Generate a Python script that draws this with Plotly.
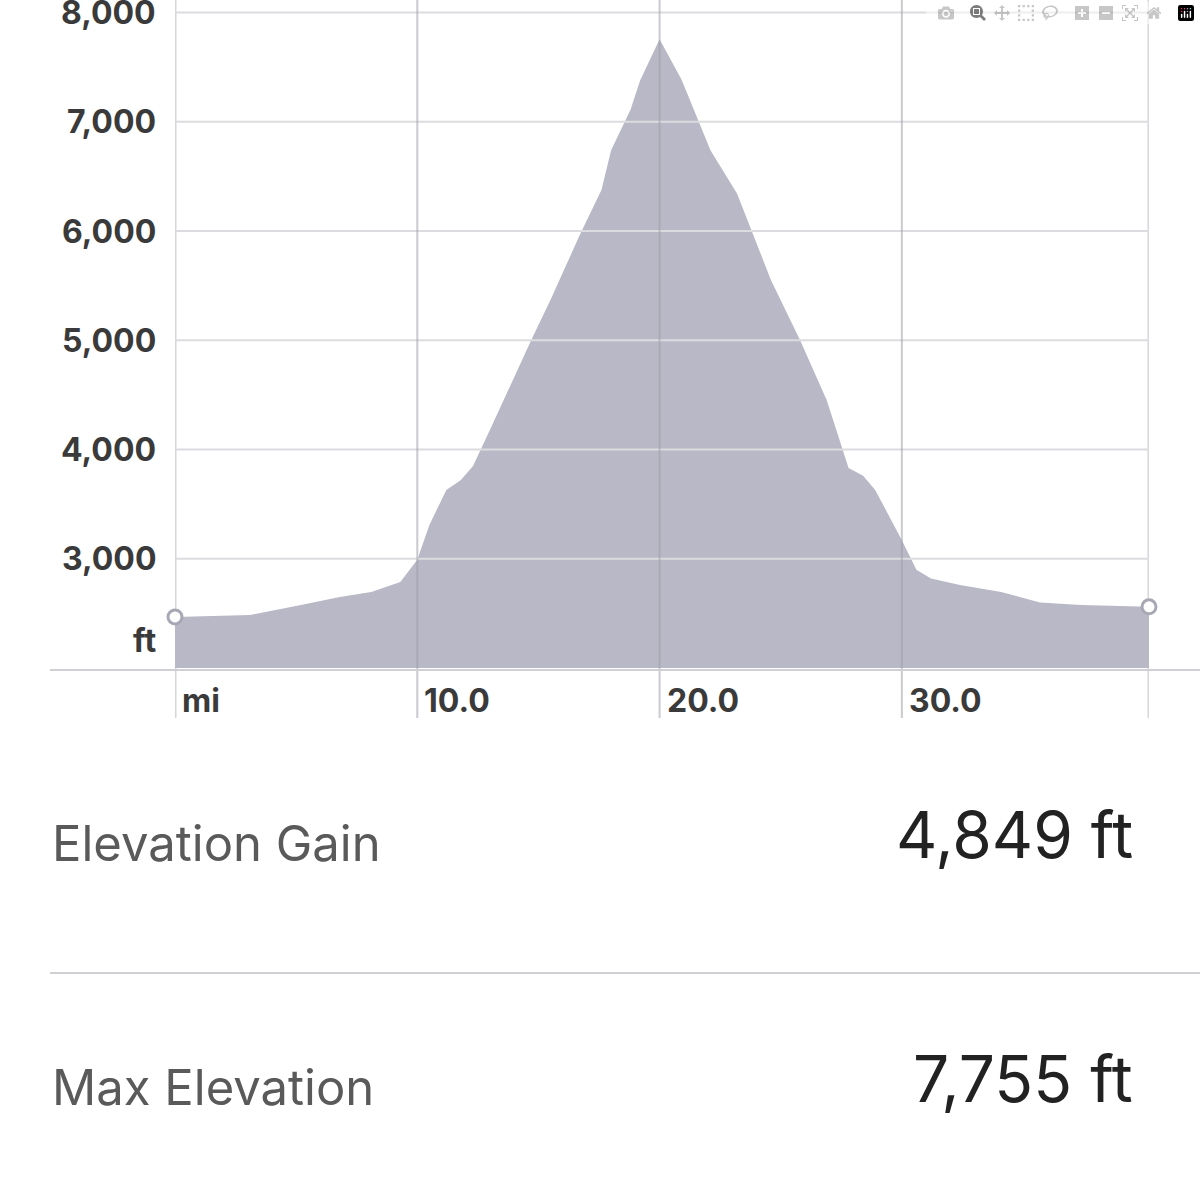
import plotly.graph_objects as go

miles = [0, 3.1, 5.2, 6.8, 8.1, 9.3, 10.0, 10.5, 11.2, 11.8, 12.3, 13.0, 14.7, 15.5, 16.7, 17.6, 18.0, 18.8, 19.2, 20.0,
         20.9, 22.1, 23.2, 24.6, 25.8, 26.9, 27.8, 28.4, 28.9, 30.0, 30.6, 31.2, 32.4, 34.1, 35.7, 37.4, 40.2]
elev = [2467, 2485, 2577, 2650, 2695, 2787, 2990, 3310, 3630, 3720, 3850, 4180, 5000, 5370, 5960, 6375, 6740, 7110, 7380, 7755,
        7390, 6740, 6340, 5550, 5000, 4450, 3830, 3760, 3630, 3170, 2900, 2820, 2760, 2695, 2600, 2577, 2560]
y_ticks = [3000, 4000, 5000, 6000, 7000, 8000]
x_ticks = [10, 20, 30]
stats = [("Elevation Gain", "4,849 ft"), ("Max Elevation", "7,755 ft")]

W = H = 1200
def py(p): return 1 - p / H
def px(p): return p / W

XMAX = 40.2
YMIN, YMAX = 2000, 2000 + 668 / 109.25 * 1000

fig = go.Figure()
fig.add_trace(go.Scatter(x=miles, y=elev, mode="lines", fill="tozeroy", line=dict(color="#b8b8c6", width=0),
                         fillcolor="#b8b8c6", hoverinfo="skip"))
fig.add_trace(go.Scatter(x=[miles[0], miles[-1]], y=[elev[0], elev[-1]], mode="markers",
                         marker=dict(size=14, color="white", line=dict(color="#a8a8b4", width=3)), cliponaxis=False))

shapes = []
for v in y_ticks:
    shapes.append(dict(type="line", xref="x", yref="y", x0=0, x1=XMAX, y0=v, y1=v, line=dict(color="#dcdce0", width=2)))
for v in [0] + x_ticks + [XMAX]:
    shapes.append(dict(type="line", xref="x", yref="paper", x0=v, x1=v, y0=py(718), y1=1,
                       line=dict(color="#a0a0aa" if v in x_ticks else "#d6d6dc", width=2 if v in x_ticks else 3),
                       layer="above" if v in x_ticks else "below", opacity=0.55 if v in x_ticks else 1))
shapes.append(dict(type="line", xref="paper", yref="paper", x0=px(50), x1=1, y0=py(670), y1=py(670), line=dict(color="#d0d0d4", width=2)))
shapes.append(dict(type="line", xref="paper", yref="paper", x0=px(50), x1=1, y0=py(973), y1=py(973), line=dict(color="#d0d0d4", width=2)))

ann = []
lab = dict(family="Inter, Roboto, sans-serif", size=32, color="#3a3a3a")
for v in y_ticks:
    ann.append(dict(x=px(158), y=v, xref="paper", yref="y", text=f"<b>{v:,}</b>", showarrow=False, xanchor="right", font=lab))
ann.append(dict(x=px(158), y=py(640), xref="paper", yref="paper", text="<b>ft</b>", showarrow=False, xanchor="right", font=lab))
ann.append(dict(x=0, y=py(700), xref="x", yref="paper", text="<b>mi</b>", showarrow=False, xanchor="left", xshift=5, font=lab))
for v in x_ticks:
    ann.append(dict(x=v, y=py(700), xref="x", yref="paper", text=f"<b>{v:.1f}</b>", showarrow=False, xanchor="left", xshift=5, font=lab))
for (name, val), yy in zip(stats, [875, 1119]):
    ann.append(dict(x=px(50), y=py(yy), xref="paper", yref="paper", text=name, showarrow=False, xanchor="left",
                    font=dict(family="Inter, Roboto, sans-serif", size=49, color="#5a5a5a")))
    ann.append(dict(x=px(1135), y=py(yy), xref="paper", yref="paper", text=val, showarrow=False, xanchor="right",
                    font=dict(family="Inter, Roboto, sans-serif", size=64, color="#222222")))

fig.update_layout(width=W, height=H, margin=dict(l=0, r=0, t=0, b=0), paper_bgcolor="white", plot_bgcolor="white",
                  showlegend=False, shapes=shapes, annotations=ann,
                  xaxis=dict(domain=[px(175), px(1149)], range=[0, XMAX], visible=False),
                  yaxis=dict(domain=[py(668), 1], range=[YMIN, YMAX], visible=False))
fig.write_html("out.html", post_script="document.body.style.margin='0';")
